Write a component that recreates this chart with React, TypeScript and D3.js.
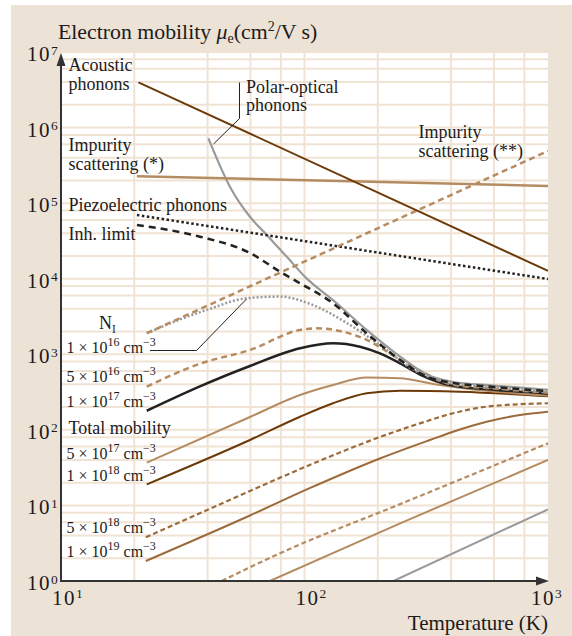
import React from "react";
import * as d3 from "d3";

type Pt = [number, number];

// [temperature K, mobility cm2/Vs]
const acousticPhonons: Pt[] = [[20.8, 3.97e6], [1000, 1.27e4]];
const impurityLow: Pt[] = [[20.5, 2.27e5], [1000, 1.69e5]];
const impurityHigh: Pt[] = [[22.5, 1.9e3], [1000, 4.9e5]];
const piezoPhonons: Pt[] = [[20.5, 6.97e4], [1000, 9.9e3]];
const inhLimit: Pt[] = [[20.5, 5.14e4], [37.2, 3.6e4], [59.7, 2.19e4], [79.3, 1.24e4], [95.9, 8.7e3], [131, 4.73e3], [180, 1.9e3], [247, 840], [318, 505], [400, 422], [600, 370], [1000, 325]];
const polarOptical: Pt[] = [[40.3, 7.2e5], [49.4, 1.65e5], [59.7, 6.6e4], [70, 3.8e4], [84.6, 1.95e4], [102, 1.01e4], [131, 5.2e3], [180, 2.1e3], [247, 930], [318, 540], [400, 436], [600, 385], [1000, 338]];

const total1e16: Pt[] = [[22.5, 1.9e3], [30, 2.8e3], [40, 3.9e3], [57.5, 5.5e3], [79, 5.8e3], [108, 4.5e3], [149, 2.6e3], [204, 1.33e3], [279, 630], [400, 412], [600, 362], [1000, 318]];
const total5e16: Pt[] = [[22.5, 373], [37.2, 751], [59.7, 1.14e3], [95.9, 2.1e3], [112, 2.21e3], [140, 2.03e3], [180, 1.55e3], [247, 850], [298, 610], [400, 400], [600, 352], [1000, 310]];
const total1e17: Pt[] = [[22.5, 179], [37.2, 376], [59.7, 700], [95.9, 1.2e3], [131, 1.4e3], [169, 1.26e3], [204, 1.03e3], [247, 760], [298, 540], [400, 388], [600, 340], [1000, 300]];
const total5e17: Pt[] = [[22.5, 36.8], [59.7, 148], [95.9, 289], [131, 392], [180, 493], [247, 481], [338, 405], [450, 355], [1000, 285]];
const total1e18: Pt[] = [[22.5, 19], [59.7, 73.4], [95.9, 149], [131, 225], [180, 305], [247, 330], [435, 320], [1000, 278]];
const total5e18: Pt[] = [[22.3, 3.79], [59.7, 15.5], [105, 34.3], [204, 80.4], [298, 122], [408, 166], [560, 203], [1000, 225]];
const total1e19: Pt[] = [[22.3, 1.84], [59.7, 7.36], [105, 16.9], [204, 41.8], [327, 73.4], [408, 94.6], [560, 128], [767, 157], [1000, 174]];
const totalLowDashed: Pt[] = [[45.7, 1], [79.3, 2.33], [247, 10.4], [1000, 66.4]];
const totalLowSolid: Pt[] = [[72.1, 1], [247, 5.8], [1000, 39.9]];
const totalLowGray: Pt[] = [[232, 1], [1000, 8.89]];

const xTickExps = [1, 2, 3];
const yTickExps = [0, 1, 2, 3, 4, 5, 6, 7];
const xGridValues = [20, 40, 60, 80, 100, 200, 400, 600, 800];
const yGridMultipliers = [1, 2, 4, 6, 8];

const concMantissa = ["1", "5", "1", "5", "1", "5", "1"];
const concExponent = ["16", "16", "17", "17", "18", "18", "19"];
const concBaselines = [353, 381.5, 406.5, 458.5, 481, 532.5, 556.5];

const DARK = "#6b3a08";
const MID = "#9c6b3b";
const LIGHT = "#b58c62";
const GRAY = "#9a9a9a";
const BLACK = "#222222";
const TEXT = "#1e1a1a";
const FONT = "'Liberation Serif', 'Times New Roman', serif";

const series = [
  { data: totalLowGray, color: GRAY, w: 2 },
  { data: totalLowSolid, color: LIGHT, w: 2 },
  { data: totalLowDashed, color: LIGHT, w: 2.2, dash: "5 3" },
  { data: total1e19, color: MID, w: 2 },
  { data: total5e18, color: MID, w: 2.2, dash: "5 3" },
  { data: total1e18, color: DARK, w: 2 },
  { data: total5e17, color: LIGHT, w: 2 },
  { data: total1e17, color: BLACK, w: 2.5 },
  { data: total5e16, color: LIGHT, w: 2.5, dash: "6 4" },
  { data: total1e16, color: GRAY, w: 2.5, dash: "2 2" },
  { data: polarOptical, color: GRAY, w: 2.2 },
  { data: inhLimit, color: BLACK, w: 2.5, dash: "7 5" },
  { data: piezoPhonons, color: BLACK, w: 2.5, dash: "2.5 2.5" },
  { data: impurityLow, color: LIGHT, w: 2.5 },
  { data: impurityHigh, color: LIGHT, w: 2.5, dash: "6 4" },
  { data: acousticPhonons, color: DARK, w: 2 },
];

export default function App() {
  const x = d3.scaleLog().domain([10, 1000]).range([61, 548]);
  const y = d3.scaleLog().domain([1, 1e7]).range([581, 52]);
  const line = d3.line<Pt>().x(d => x(d[0])).y(d => y(d[1])).curve(d3.curveMonotoneX);

  const yGrid: number[] = [];
  yTickExps.forEach(n => yGridMultipliers.forEach(m => {
    const v = m * Math.pow(10, n);
    if (v > 1 && v <= 1e7) yGrid.push(v);
  }));

  return (
    <svg width={572} height={636} style={{ position: "absolute", left: 0, top: 0 }} fontFamily={FONT}>
      <rect x={0} y={0} width={572} height={636} fill="#ffffff" />
      <rect x={11} y={5} width={561} height={631} fill="#ece2d6" />
      <defs>
        <clipPath id="plotClip">
          <rect x={61} y={52} width={487} height={529} />
        </clipPath>
      </defs>
      <rect x={61} y={52} width={487} height={529} fill="#ffffff" />

      {/* grid */}
      <g stroke="#f0e3d3" strokeWidth={2}>
        {xGridValues.map(v => <line key={"gx" + v} x1={x(v)} x2={x(v)} y1={52} y2={581} />)}
        {yGrid.map(v => <line key={"gy" + v} x1={61} x2={548} y1={y(v)} y2={y(v)} />)}
      </g>

      {/* curves */}
      <g clipPath="url(#plotClip)" fill="none" strokeLinecap="butt">
        {series.map((s, i) => (
          <path key={i} d={line(s.data) || ""} stroke={s.color} strokeWidth={s.w} strokeDasharray={s.dash} />
        ))}
      </g>

      {/* axes */}
      <g stroke="#333" strokeWidth={2}>
        <line x1={61} x2={61} y1={582} y2={62} />
        <line x1={60} x2={540} y1={581} y2={581} />
      </g>
      <polygon points="61,53 56.5,66 65.5,66" fill="#333" />
      <polygon points="549,581 536,576.5 536,585.5" fill="#333" />

      {/* tick labels */}
      <g fill={TEXT}>
        {yTickExps.map(n => (
          <text key={"yt" + n} x={27} y={y(Math.pow(10, n)) + 9} fontSize={21}>
            <tspan letterSpacing={1.5}>10</tspan>
            <tspan fontSize={13.5} y={y(Math.pow(10, n)) + 2.5}>{n}</tspan>
          </text>
        ))}
        {xTickExps.map(n => (
          <text key={"xt" + n} x={Math.min(x(Math.pow(10, n)) - 9, 531)} y={605} fontSize={21}>
            <tspan letterSpacing={1.5}>10</tspan>
            <tspan fontSize={13.5} y={598}>{n}</tspan>
          </text>
        ))}
      </g>

      {/* titles */}
      <g fill={TEXT}>
        <text x={58} y={38.5} fontSize={21.8}>
          Electron mobility <tspan fontStyle="italic">μ</tspan>
          <tspan fontSize={14} y={42.5}>e</tspan>
          <tspan y={38.5}>(cm</tspan>
          <tspan fontSize={14} y={31}>2</tspan>
          <tspan y={38.5}>/V s)</tspan>
        </text>
        <text x={548} y={630} fontSize={21} textAnchor="end">Temperature (K)</text>
      </g>

      {/* curve labels */}
      <g fill={TEXT} fontSize={18}>
        <text x={68.5} y={71}>Acoustic</text>
        <text x={68.5} y={89.5}>phonons</text>
        <text x={246} y={92.5}>Polar-optical</text>
        <text x={246} y={111}>phonons</text>
        <text x={68.5} y={151}>Impurity</text>
        <text x={68.5} y={169.5}>scattering (*)</text>
        <text x={418.5} y={138}>Impurity</text>
        <text x={418.5} y={156.5}>scattering (**)</text>
        <text x={68.5} y={211}>Piezoelectric phonons</text>
        <text x={68.5} y={239.5}>Inh. limit</text>
        <text x={68.5} y={434}>Total mobility</text>
        <text x={99} y={329}>N<tspan fontSize={11.5} y={332.5}>I</tspan></text>
      </g>
      <g fill={TEXT} fontSize={16}>
        {concMantissa.map((m, i) => (
          <text key={"c" + i} x={66.5} y={concBaselines[i]}>
            {m} × 10<tspan fontSize={12} y={concBaselines[i] - 7}>{concExponent[i]}</tspan>
            <tspan y={concBaselines[i]}> cm</tspan>
            <tspan fontSize={12} y={concBaselines[i] - 7}>−3</tspan>
          </text>
        ))}
      </g>

      {/* callout lines */}
      <g fill="none" stroke={BLACK} strokeWidth={1}>
        <polyline points="239.5,82.5 239.5,118.5 213.5,144" />
        <polyline points="150,350.5 196.5,350.5 246.5,299" />
      </g>
    </svg>
  );
}
